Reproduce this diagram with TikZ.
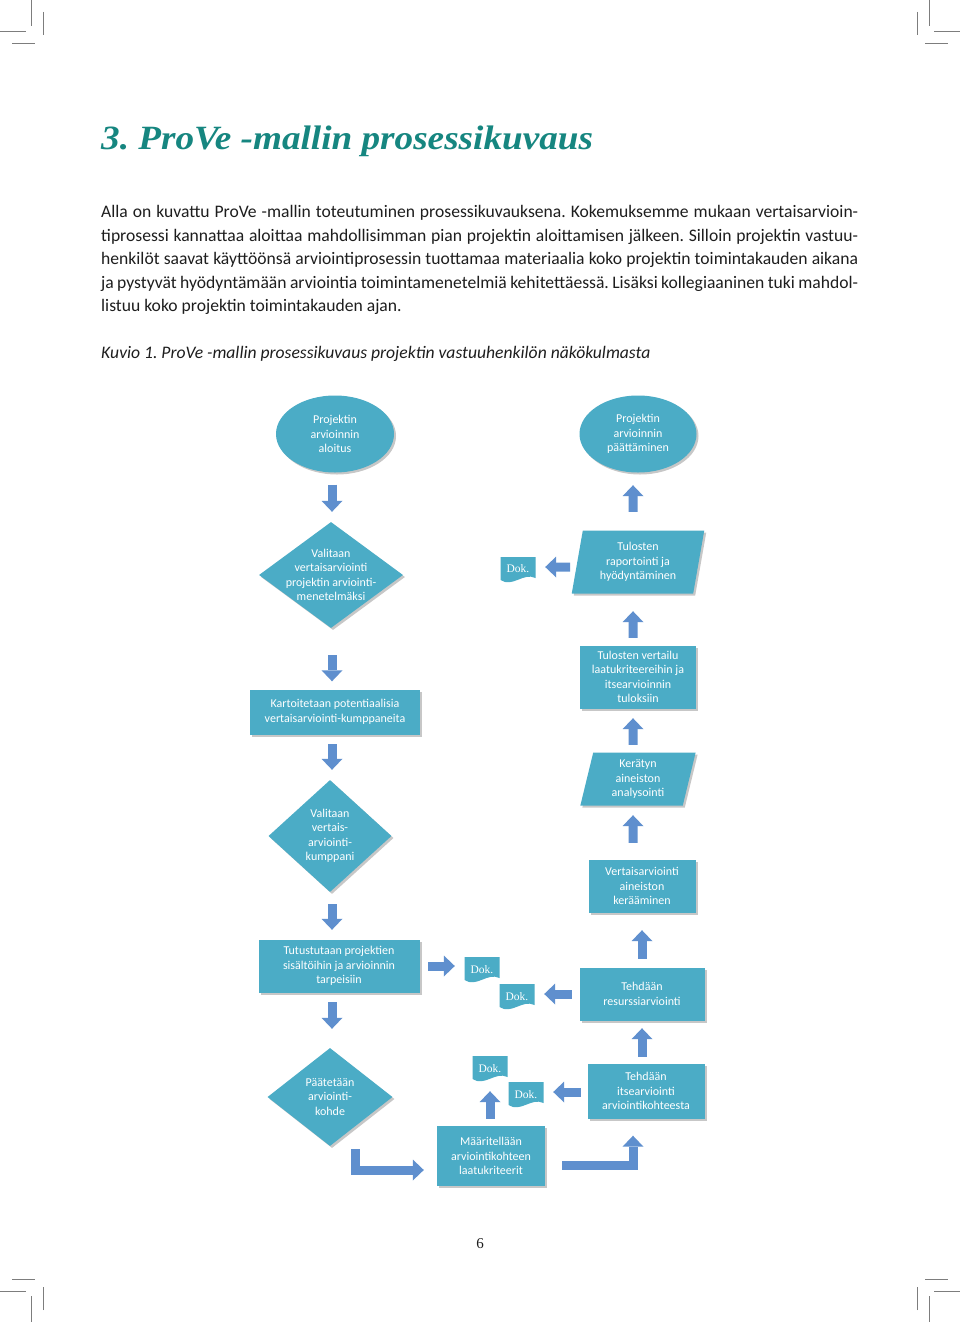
\documentclass[tikz,border=0pt]{standalone}
\usepackage{fontspec}
\setmainfont{Carlito}
\newfontfamily\serifface{Liberation Serif}
\usetikzlibrary{positioning,shapes.geometric,shadows,arrows.meta,calc}
\frenchspacing

\definecolor{titleteal}{RGB}{22,134,128}
\definecolor{boxblue}{RGB}{75,172,198}
\definecolor{arrowblue}{RGB}{95,143,206}
\definecolor{cropgray}{RGB}{125,125,125}
\definecolor{bodyblack}{RGB}{30,30,30}

\tikzset{
  diagtext/.style={text=white, font=\fontsize{12}{14.5}\selectfont, align=center, inner sep=0pt},
  shapebox/.style={diagtext, fill=boxblue, drop shadow={shadow xshift=2pt,shadow yshift=-2pt,fill=black,opacity=0.22}},
  processbox/.style={shapebox, rectangle},
  terminal/.style={shapebox, ellipse},
  decision/.style={shapebox, diamond},
  iobox/.style={shapebox, trapezium, trapezium left angle=79, trapezium right angle=101, trapezium stretches=true},
  dokbox/.style={minimum width=35pt, minimum height=26pt, inner sep=0pt, text=white, font=\serifface\fontsize{11.5}{13}\selectfont,
    path picture={\fill[boxblue] (path picture bounding box.north west) -- (path picture bounding box.north east)
      -- ($(path picture bounding box.south east)+(0,5)$) .. controls +(-12,6) and +(12,-8) .. ($(path picture bounding box.south west)+(0,3)$) -- cycle;}},
  blockarrow/.style={line width=9pt, draw=arrowblue, -{Triangle[width=21pt,length=11pt,line width=0pt]}},
  cropmark/.style={cropgray, line width=0.9pt},
  bodytext/.style={inner sep=0pt, anchor=base west, font=\fontsize{17.6}{23.5}\selectfont, text=bodyblack},
}

\begin{document}
\begin{tikzpicture}[x=1pt,y=1pt,yscale=-1,xscale=1]

\useasboundingbox [fill=white] (0,0) rectangle (960,1322);

%Crop marks
\draw [cropmark] (31,0) -- (31,26) ;
\draw [cropmark] (0,31) -- (26,31) ;
\draw [cropmark] (43,12) -- (43,35) ;
\draw [cropmark] (12,43) -- (35,43) ;
\draw [cropmark] (929,0) -- (929,26) ;
\draw [cropmark] (934,31) -- (960,31) ;
\draw [cropmark] (917,12) -- (917,35) ;
\draw [cropmark] (925,43) -- (948,43) ;
\draw [cropmark] (31,1322) -- (31,1296) ;
\draw [cropmark] (0,1291) -- (26,1291) ;
\draw [cropmark] (43,1310) -- (43,1287) ;
\draw [cropmark] (12,1279) -- (35,1279) ;
\draw [cropmark] (929,1322) -- (929,1296) ;
\draw [cropmark] (934,1291) -- (960,1291) ;
\draw [cropmark] (917,1310) -- (917,1287) ;
\draw [cropmark] (925,1279) -- (948,1279) ;

% Text Node
\node [anchor=base west, inner sep=0pt, text=titleteal, font=\serifface\fontsize{34}{38}\selectfont\bfseries\itshape] (title) at (101,149) {\scalebox{1.094}[1]{3. ProVe -mallin prosessikuvaus}};

% Text Node
\node [bodytext] (line1) at (101,217) {\makebox[757pt][s]{Alla on kuvattu ProVe -mallin toteutuminen prosessikuvauksena. Kokemuksemme mukaan vertaisarvioin-}};
\node [bodytext] (line2) at (101,241) {\makebox[757pt][s]{tiprosessi kannattaa aloittaa mahdollisimman pian projektin aloittamisen jälkeen. Silloin projektin vastuu-}};
\node [bodytext] (line3) at (101,264.5) {\makebox[757pt][s]{henkilöt saavat käyttöönsä arviointiprosessin tuottamaa materiaalia koko projektin toimintakauden aikana}};
\node [bodytext] (line4) at (101,288) {\makebox[757pt][s]{ja pystyvät hyödyntämään arviointia toimintamenetelmiä kehitettäessä. Lisäksi kollegiaaninen tuki mahdol-}};
\node [bodytext] (line5) at (101,311) {listuu koko projektin toimintakauden ajan.};

% Text Node
\node [bodytext, font=\fontsize{17.6}{20}\selectfont\itshape] (caption) at (101,358) {Kuvio 1. ProVe -mallin prosessikuvaus projektin vastuuhenkilön näkökulmasta};

%Left column
\node [terminal, minimum width=118pt, minimum height=77pt] (start) at (335,434) {Projektin\\arvioinnin\\aloitus};
\node [decision, minimum width=144pt, minimum height=106pt, label={[diagtext]center:{Valitaan\\vertaisarviointi\\projektin arviointi-\\menetelmäksi}}] (choose) at (331,575) {};
\node [processbox, minimum width=170pt, minimum height=45pt] (search) at (335,712) {Kartoitetaan potentiaalisia\\vertaisarviointi-kumppaneita};
\node [decision, minimum width=123pt, minimum height=112pt, label={[diagtext]center:{Valitaan\\vertais-\\arviointi-\\kumppani}}] (partner) at (330,836) {};
\node [processbox, minimum width=161pt, minimum height=53pt] (study) at (339,966) {Tutustutaan projektien\\sisältöihin ja arvioinnin\\tarpeisiin};
\node [decision, minimum width=125pt, minimum height=98pt, label={[diagtext]center:{Päätetään\\arviointi-\\kohde}}] (target) at (330,1097) {};
\node [processbox, minimum width=108pt, minimum height=60pt] (define) at (491,1156) {Määritellään\\arviointikohteen\\laatukriteerit};

%Right column
\node [terminal, minimum width=117pt, minimum height=77pt] (finish) at (638,434) {Projektin\\arvioinnin\\päättäminen};
\node [iobox, minimum width=133pt, minimum height=63pt] (report) at (638,562) {Tulosten\\raportointi ja\\hyödyntäminen};
\node [processbox, minimum width=116pt, minimum height=63pt] (compare) at (638,677) {Tulosten vertailu\\laatukriteereihin ja\\itsearvioinnin\\tuloksiin};
\node [iobox, minimum width=116pt, minimum height=53pt] (analyse) at (638,779) {Kerätyn\\aineiston\\analysointi};
\node [processbox, minimum width=107pt, minimum height=53pt] (collect) at (642,886) {Vertaisarviointi\\aineiston\\kerääminen};
\node [processbox, minimum width=125pt, minimum height=53pt] (resource) at (642,994) {Tehdään\\resurssiarviointi};
\node [processbox, minimum width=117pt, minimum height=55pt] (selfeval) at (646,1091) {Tehdään\\itsearviointi\\arviointikohteesta};

%Documents
\node [dokbox] (dokA) at (518,570) {\raisebox{2pt}{Dok.}};
\node [dokbox] (dokB) at (482,970) {\raisebox{2pt}{Dok.}};
\node [dokbox] (dokC) at (517,997) {\raisebox{2pt}{Dok.}};
\node [dokbox] (dokD) at (490,1069) {\raisebox{2pt}{Dok.}};
\node [dokbox] (dokE) at (526,1095) {\raisebox{2pt}{Dok.}};

%Block arrows, left column
\draw [blockarrow] ($(start.south)+(-3,12)$) -- ($(choose.north)+(1,-10)$) ;
\draw [blockarrow] ($(choose.south)+(1,27)$) -- ($(search.north)+(-3,-8)$) ;
\draw [blockarrow] ($(search.south)+(-3,9.5)$) -- ($(partner.north)+(2,-10)$) ;
\draw [blockarrow] ($(partner.south)+(2,12)$) -- ($(study.north)+(-7,-9.5)$) ;
\draw [blockarrow] ($(study.south)+(-7,9.5)$) -- ($(target.north)+(2,-19)$) ;
\draw [blockarrow] ($(study.east)+(8.5,0)$) -- ($(dokB.west)+(-9.5,-4)$) ;
\draw [blockarrow] ($(target.south)+(25.5,3)$) |- ($(define.west)+(-13,14)$) ;
\draw [blockarrow] ($(define.north)+(-1,-7)$) -- ($(dokD.south)+(0,9)$) ;
\draw [blockarrow] ($(define.east)+(17,9.5)$) -| ($(selfeval.south)+(-13,17)$) ;

%Block arrows, right column
\draw [blockarrow] ($(selfeval.west)+(-6.5,1)$) -- ($(dokE.east)+(9.5,-3)$) ;
\draw [blockarrow] ($(selfeval.north)+(-4,-6.5)$) -- ($(resource.south)+(0,7.5)$) ;
\draw [blockarrow] ($(resource.west)+(-7.5,0)$) -- ($(dokC.east)+(9.5,-3)$) ;
\draw [blockarrow] ($(resource.north)+(0,-8.5)$) -- ($(collect.south)+(0,17.5)$) ;
\draw [blockarrow] ($(collect.north)+(-9,-16.5)$) -- ($(analyse.south)+(-5,9.5)$) ;
\draw [blockarrow] ($(analyse.north)+(-5,-7.5)$) -- ($(compare.south)+(-5,9.5)$) ;
\draw [blockarrow] ($(compare.north)+(-5,-7.5)$) -- ($(report.south)+(-5,17.5)$) ;
\draw [blockarrow] ($(report.west)+(-7,5)$) -- ($(dokA.east)+(9.5,-3)$) ;
\draw [blockarrow] ($(report.north)+(-5,-18.5)$) -- ($(finish.south)+(-5,12.5)$) ;

% Text Node
\node [font=\serifface\fontsize{15}{18}\selectfont, text=bodyblack] (pagenum) at (480,1244) {6};

\end{tikzpicture}
\end{document}
